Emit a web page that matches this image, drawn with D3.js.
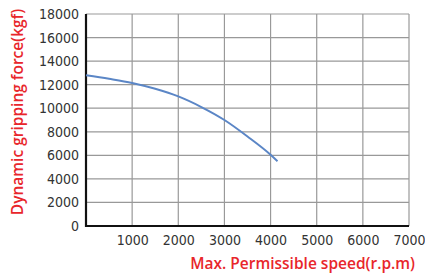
<!DOCTYPE html>
<html>
<head>
<meta charset="utf-8">
<script src="https://cdn.jsdelivr.net/npm/d3@7"></script>
<style>
  body { margin: 0; background: #fff; }
  svg { display: block; }
  .tick text { font-family: "Liberation Sans Narrow", "DejaVu Sans Condensed", sans-serif; fill: #333; }
  .ttl { font-family: "Open Sans", "Noto Sans", sans-serif; fill: #e8262b; font-weight: 600; }
</style>
</head>
<body>
<svg id="chart" width="425" height="274"></svg>
<script>
// speed (r.p.m) vs dynamic gripping force (kgf)
var speed = [0, 500, 1000, 1500, 2000, 2500, 3000, 3500, 4000, 4150];
var force = [12800, 12500, 12150, 11650, 11000, 10100, 9000, 7600, 6050, 5500];
var xTicks = [1000, 2000, 3000, 4000, 5000, 6000, 7000];
var yTicks = [0, 2000, 4000, 6000, 8000, 10000, 12000, 14000, 16000, 18000];

var svg = d3.select('#chart');
var m = {l: 86, t: 14, r: 409, b: 226};

var x = d3.scaleLinear().domain([0, 7000]).range([m.l, m.r]);
var y = d3.scaleLinear().domain([0, 18000]).range([m.b, m.t]);

// grid
svg.append('g').selectAll('line').data(yTicks.slice(1)).enter().append('line')
  .attr('x1', m.l).attr('x2', m.r)
  .attr('y1', d => y(d)).attr('y2', d => y(d))
  .attr('stroke', '#999').attr('stroke-width', 1.2);
svg.append('g').selectAll('line').data(xTicks).enter().append('line')
  .attr('x1', d => x(d)).attr('x2', d => x(d))
  .attr('y1', m.t).attr('y2', m.b)
  .attr('stroke', '#999').attr('stroke-width', 1.2);

// axes
var yAxis = svg.append('g').attr('transform', 'translate(' + m.l + ',0)')
  .call(d3.axisLeft(y).tickValues(yTicks).tickSize(0).tickPadding(7).tickFormat(d3.format('d')));
var xAxis = svg.append('g').attr('transform', 'translate(0,' + m.b + ')')
  .call(d3.axisBottom(x).tickValues(xTicks).tickSize(0).tickPadding(9).tickFormat(d3.format('d')));
yAxis.select('.domain').remove();
xAxis.select('.domain').remove();
svg.selectAll('.tick text').style('font-size', '14px');

svg.append('line').attr('x1', m.l).attr('x2', m.l).attr('y1', m.t).attr('y2', m.b + 1)
  .attr('stroke', '#111').attr('stroke-width', 2.2);
svg.append('line').attr('x1', m.l - 1).attr('x2', m.r).attr('y1', m.b).attr('y2', m.b)
  .attr('stroke', '#111').attr('stroke-width', 2.2);

// curve
var line = d3.line().x((d, i) => x(speed[i])).y(d => y(d)).curve(d3.curveMonotoneX);
svg.append('path').datum(force)
  .attr('d', line).attr('fill', 'none')
  .attr('stroke', '#5b86c6').attr('stroke-width', 2);

// titles
svg.append('text').attr('class', 'ttl')
  .attr('transform', 'translate(23,112) rotate(-90)')
  .attr('text-anchor', 'middle').style('font-size', '15.5px')
  .text('Dynamic gripping force(kgf)');
svg.append('text').attr('class', 'ttl')
  .attr('x', 415).attr('y', 269).attr('text-anchor', 'end').style('font-size', '15.5px')
  .text('Max. Permissible speed(r.p.m)');
</script>
</body>
</html>
